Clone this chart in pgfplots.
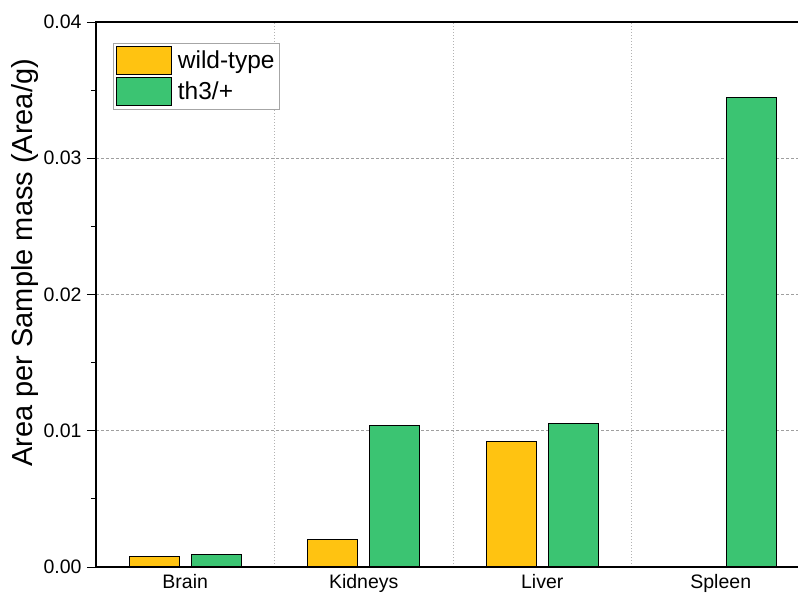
\documentclass[border=0pt]{standalone}
\usepackage{fontspec}
\setmainfont{Liberation Sans}
\usepackage{pgfplots}
\pgfplotsset{compat=1.18}
\definecolor{wtcol}{HTML}{FFC311}
\definecolor{thcol}{HTML}{3BC472}
\begin{document}
\begin{tikzpicture}
\begin{axis}[
  at={(0,0)}, anchor=south west,
  scale only axis, width=714pt, height=545pt,
  ybar=12pt, bar width=50pt,
  xmin=-0.5, xmax=3.5, ymin=0, ymax=0.04,
  xtick={0,1,2,3}, xticklabels={Brain,Kidneys,Liver,Spleen},
  minor xtick={0.5,1.5,2.5},
  x tick style={draw=none},
  xtick pos=bottom,
  xminorgrids=true,
  minor x grid style={gray!60, line width=0.8pt, dash pattern=on 1pt off 2pt},
  ytick={0,0.01,0.02,0.03,0.04},
  yticklabels={0.00,0.01,0.02,0.03,0.04},
  minor ytick={0.005,0.015,0.025,0.035},
  scaled y ticks=false,
  ytick pos=left,
  ymajorgrids=true,
  major y grid style={gray!75, line width=0.8pt, dash pattern=on 3pt off 2pt},
  tick align=outside,
  y tick style={black, line width=0.9pt},
  major tick length=9pt, minor tick length=5pt,
  axis line style={black, line width=1.3pt},
  ticklabel style={font=\fontsize{19.5}{23}\selectfont},
  yticklabel style={xshift=-2pt},
  xticklabel style={inner ysep=0pt, yshift=1.5pt},
  ylabel={Area per Sample mass (Area/g)},
  ylabel style={at={(axis description cs:-0.0896,0.558)}, anchor=base, font=\fontsize{29}{34}\selectfont},
  legend image code/.code={\draw[#1] (0pt,-6pt) rectangle (55pt,22pt);},
  legend style={at={(axis description cs:0.0238,0.9615)}, anchor=north west,
    draw=gray!70, line width=0.8pt, font=\fontsize{24.5}{28}\selectfont,
    cells={anchor=base west, inner xsep=3pt, inner ysep=1pt},
    row sep=2pt, column sep=4pt, inner xsep=2.5pt, inner ysep=3pt},
]
\addplot[fill=wtcol, draw=black, line width=1pt] coordinates {(0,0.00076) (1,0.00200) (2,0.00923)};
\addplot[fill=thcol, draw=black, line width=1pt] coordinates {(0,0.00093) (1,0.01040) (2,0.01052) (3,0.03445)};
\legend{wild-type, th3/+}
\end{axis}
\pgfresetboundingbox
\useasboundingbox (-96pt,-26pt) rectangle (702pt,567pt);
\end{tikzpicture}
\end{document}
